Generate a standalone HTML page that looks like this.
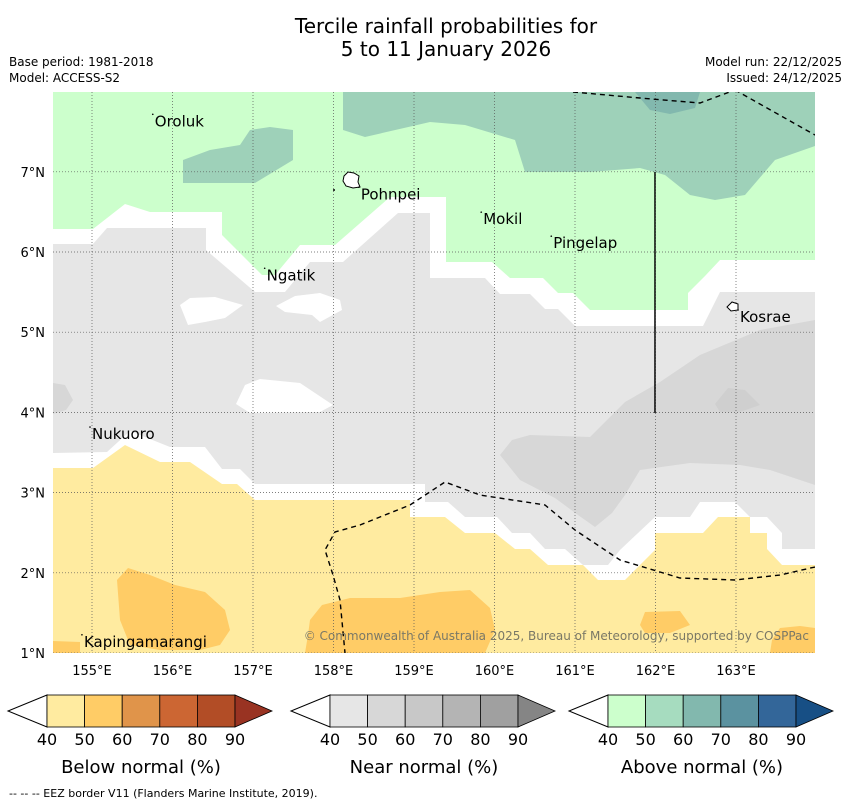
<!DOCTYPE html>
<html><head><meta charset="utf-8"><style>
body{margin:0;background:#fff;width:850px;height:804px;overflow:hidden;font-family:"DejaVu Sans","Liberation Sans",sans-serif;}
svg{display:block}
</style></head><body>
<svg id="chart" width="850" height="804" xmlns="http://www.w3.org/2000/svg">
<text x="446" y="33" font-size="20" text-anchor="middle">Tercile rainfall probabilities for</text>
<text x="446" y="56" font-size="20" text-anchor="middle">5 to 11 January 2026</text>
<text x="9" y="66" font-size="12">Base period: 1981-2018</text>
<text x="9" y="82" font-size="12">Model: ACCESS-S2</text>
<text x="842" y="66" font-size="12" text-anchor="end">Model run: 22/12/2025</text>
<text x="842" y="82" font-size="12" text-anchor="end">Issued: 24/12/2025</text>
<defs><clipPath id="mc"><rect x="53" y="92" width="762" height="561"/></clipPath></defs>
<g id="map" clip-path="url(#mc)">
<rect x="53" y="92" width="762" height="561" fill="#fff"/>
<path fill="#ccffcc" d="M53,92 L815,92 L815,260 L720,260 L705,276 L688,293 L688,310 L590,310 L573,293 L558,293 L543,278 L510,278 L492,262 L446,262 L446,197 L390,197 L335,245 L300,245 L275,275 L262,275 L222,235 L222,212 L150,212 L125,204 L93,229 L53,229 Z"/>
<path fill="#e6e6e6" d="M53,244 L93,244 L107,228 L206,228 L206,250 L255,292 L285,292 L310,262 L343,262 L398,213 L430,213 L430,278 L485,278 L500,294 L530,294 L545,309 L558,309 L575,326 L703,326 L720,292 L815,292 L815,549 L782,549 L782,533 L767,517 L750,517 L735,502 L700,502 L690,517 L655,517 L620,550 L608,565 L583,565 L565,549 L545,549 L530,533 L512,533 L497,517 L465,517 L448,502 L425,502 L425,484 L255,484 L240,469 L222,469 L205,447 L170,447 L130,431 L107,452 L53,453 Z"/>
<path fill="#fff" d="M180,305 L190,298 L215,297 L243,305 L225,318 L205,322 L188,325 Z"/>
<path fill="#fff" d="M276,306 L295,296 L320,293 L340,300 L342,310 L320,322 L312,315 L285,312 Z"/>
<path fill="#fff" d="M236,404 L245,385 L260,379 L300,383 L333,405 L320,412 L250,413 Z"/>
<path fill="#d7d7d7" d="M53,383 L65,385 L73,400 L66,410 L53,414 Z"/>
<path fill="#d7d7d7" d="M500,455 L512,440 L530,435 L590,437 L625,402 L660,382 L700,355 L760,330 L815,320 L815,485 L770,470 L740,465 L690,463 L640,470 L625,495 L612,513 L595,527 L578,515 L555,498 L520,480 Z"/>
<path fill="#cfcfcf" d="M715,404 L728,388 L745,390 L760,405 L740,412 L720,412 Z"/>
<path fill="#ffeba0" d="M53,468 L93,468 L125,445 L160,462 L190,462 L222,484 L237,484 L255,500 L410,500 L410,517 L445,517 L465,533 L495,533 L515,549 L530,549 L548,565 L583,565 L598,580 L625,580 L655,550 L655,533 L703,533 L718,517 L750,517 L750,533 L767,533 L767,549 L782,565 L815,565 L815,653 L53,653 Z"/>
<path fill="#ffcc66" d="M117,580 L128,568 L150,575 L175,585 L205,592 L225,610 L230,630 L220,645 L200,650 L160,650 L130,645 L120,620 Z"/>
<path fill="#ffcc66" d="M310,620 L322,605 L350,598 L400,598 L440,592 L470,590 L490,608 L495,630 L485,653 L305,653 L308,635 Z"/>
<path fill="#ffcc66" d="M640,625 L645,612 L680,611 L690,625 L670,633 L645,633 Z"/>
<path fill="#ffcc66" d="M772,640 L780,628 L800,626 L815,628 L815,653 L770,653 Z"/>
<path fill="#ffcc66" d="M53,641 L80,642 L80,653 L53,653 Z"/>
<path fill="#9ed1b9" d="M343,92 L815,92 L815,146 L775,160 L745,195 L715,200 L690,195 L665,175 L640,168 L590,172 L525,172 L515,140 L465,125 L430,122 L365,137 L343,130 Z"/>
<path fill="#9ed1b9" d="M183,160 L210,150 L240,145 L250,130 L270,127 L293,130 L293,160 L255,183 L183,183 Z"/>
<path fill="#82b8ae" d="M635,92 L700,92 L695,108 L670,114 L650,110 Z"/>
<line x1="655" y1="172" x2="655" y2="413" stroke="#000" stroke-width="1.5"/>
<g id="grid"></g>
<path fill="none" stroke="#000" stroke-width="1.4" stroke-dasharray="5,4" d="M573,92 L640,98 L700,103 L735,90 M735,90 L815,135"/>
<path fill="none" stroke="#000" stroke-width="1.4" stroke-dasharray="5,4" d="M815,567 L780,575 L735,580 L680,578 L620,560 L575,530 L545,505 L480,495 L445,482 L410,505 L360,525 L335,532 L325,550 L333,575 L340,600 L345,653"/>
<path fill="#fff" stroke="#000" stroke-width="1" d="M344,176 L348,172 L354,173 L359,176 L358,182 L360,187 L353,188 L346,186 L343,181 Z"/>
<circle cx="334" cy="190" r="1" fill="#000"/>
<path fill="#fff" stroke="#000" stroke-width="1" d="M727,307 L732,302 L738,304 L738,310 L731,311 Z"/>
<g id="places"></g>
<text x="809" y="640" font-size="12" fill="#7a7866" text-anchor="end">© Commonwealth of Australia 2025, Bureau of Meteorology, supported by COSPPac</text>
</g>
<g id="axes"></g>
<g id="cbars"></g>
<text x="9" y="797" font-size="11">--  --  -- EEZ border V11 (Flanders Marine Institute, 2019).</text>
</svg>
<script>
const lonTicks=[155,156,157,158,159,160,161,162,163];
const latTicks=[1,2,3,4,5,6,7];
const placeNames=["Oroluk","Pohnpei","Mokil","Pingelap","Ngatik","Kosrae","Nukuoro","Kapingamarangi"];
const placeLon=[155.78,158.34,159.86,160.73,157.17,163.05,155.0,154.9];
const placeLat=[7.63,6.72,6.41,6.11,5.71,5.19,3.73,1.14];
const cbLevels=[40,50,60,70,80,90];
const cbTitles=["Below normal (%)","Near normal (%)","Above normal (%)"];
const cbColors=[["#ffeba0","#ffcc66","#e0944a","#cc6633","#b24d26","#993322"],
["#e6e6e6","#d7d7d7","#c8c8c8","#b4b4b4","#a0a0a0","#858585"],
["#ccffcc","#a6dcbf","#82b8ae","#5b92a0","#336699","#174f85"]];
const NS="http://www.w3.org/2000/svg";
const X=lon=>92+(lon-155)*80.5;
const Y=lat=>653-(lat-1)*80.2;
function mk(t,a,p){const e=document.createElementNS(NS,t);for(const k in a)e.setAttribute(k,a[k]);p.appendChild(e);return e;}
const grid=document.getElementById('grid'),axes=document.getElementById('axes'),places=document.getElementById('places');
lonTicks.forEach(v=>{
const l=mk('line',{x1:X(v),x2:X(v),y1:92,y2:653,stroke:'#555','stroke-width':0.7,'stroke-dasharray':'1,2'},grid);


const t=mk('text',{x:X(v),y:675,'font-size':13,'text-anchor':'middle'},axes);t.textContent=v+'°E';


});
latTicks.forEach(v=>{
const l=mk('line',{x1:53,x2:815,y1:Y(v),y2:Y(v),stroke:'#555','stroke-width':0.7,'stroke-dasharray':'1,2'},grid);


const t=mk('text',{x:45,y:Y(v)+5,'font-size':13,'text-anchor':'end'},axes);t.textContent=v+'°N';


});
placeNames.forEach((n,i)=>{
const x=X(placeLon[i]),y=Y(placeLat[i]);
const d=mk('circle',{cx:x-2,cy:y-7,r:0.8,fill:'#000'},places);


const t=mk('text',{x:x,y:y+5,'font-size':15},places);t.textContent=n;


});
const cb=document.getElementById('cbars');
const starts=[47,330,608],seg=37.6,cy=711,h=16;
starts.forEach((x0,k)=>{
const g=mk('g',{},cb);


const xe=x0+seg*5;
mk('polygon',{points:`${x0},${cy-h} ${x0-39},${cy} ${x0},${cy+h}`,fill:'#fff',stroke:'#000','stroke-width':1},g);
for(let i=0;i<5;i++){mk('rect',{x:x0+i*seg,y:cy-h,width:seg,height:2*h,fill:cbColors[k][i],stroke:'#000','stroke-width':0.8},g);}
mk('polygon',{points:`${xe},${cy-h} ${xe+37},${cy} ${xe},${cy+h}`,fill:cbColors[k][5],stroke:'#000','stroke-width':0.8},g);
cbLevels.forEach((v,i)=>{const t=mk('text',{x:x0+i*seg,y:745,'font-size':16,'text-anchor':'middle'},g);t.textContent=v;

});
const tt=mk('text',{x:x0+seg*2.5,y:773,'font-size':18,'text-anchor':'middle'},g);tt.textContent=cbTitles[k];


});
</script>
</body></html>
